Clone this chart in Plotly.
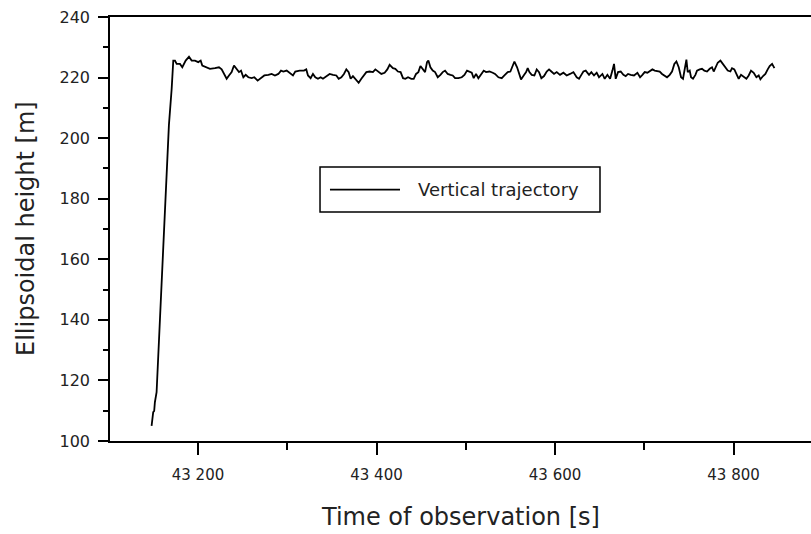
import plotly.graph_objects as go

# Time of observation [s]
time_s = [
    43148.0, 43148.7, 43149.8, 43150.9, 43151.7, 43153.6, 43167.4,
    43170.5, 43172.3, 43174.2, 43176.1, 43179.8, 43182.4, 43186.2, 43189.9, 43192.9, 43196.6,
    43200.3, 43203.0, 43204.8, 43208.6, 43213.4, 43219.0, 43223.5, 43226.5, 43229.5, 43232.1,
    43234.7, 43237.7, 43240.3, 43243.3, 43245.9, 43248.2, 43250.8, 43253.4, 43256.4, 43260.1,
    43263.1, 43266.8, 43270.6, 43274.3, 43278.8, 43282.5, 43286.2, 43290.0, 43293.0, 43295.6,
    43299.3,
    43300.8, 43303.8, 43306.4, 43309.0, 43313.9, 43318.7, 43321.3, 43323.2, 43326.2, 43328.8,
    43331.4, 43334.4, 43337.4, 43340.0, 43343.8, 43347.5, 43351.2, 43355.0, 43357.6, 43360.6,
    43363.5, 43366.2, 43368.8, 43371.0, 43373.6, 43377.4, 43380.0, 43383.0, 43386.0, 43388.6,
    43392.3, 43396.0, 43398.7, 43401.6, 43405.4, 43409.1, 43412.1, 43414.7, 43418.4, 43421.1,
    43424.0, 43427.0, 43429.7, 43432.3, 43435.3, 43439.0,
    43441.7, 43444.3, 43446.9, 43449.2, 43451.8, 43454.4, 43456.6, 43458.1, 43460.4, 43463.0,
    43465.6, 43468.6, 43471.6, 43474.2, 43476.8, 43479.8, 43482.8, 43485.4, 43488.0, 43491.7,
    43495.5, 43498.5, 43501.4, 43504.1, 43506.7, 43508.9, 43511.5, 43514.1, 43517.1, 43520.1,
    43522.7, 43526.5, 43530.2, 43532.8, 43536.6, 43540.3, 43543.3, 43547.0, 43550.0, 43552.6,
    43554.5, 43557.5, 43560.1, 43561.9, 43564.9, 43567.6, 43569.4, 43571.3, 43573.9, 43576.9,
    43579.5, 43582.1, 43584.7, 43587.7, 43590.7, 43593.3, 43595.9, 43598.9, 43601.9, 43605.6,
    43609.4, 43613.1, 43616.8, 43620.6, 43624.3, 43626.9, 43629.5, 43631.8, 43634.4, 43638.1,
    43640.7, 43643.7, 43646.7, 43649.3, 43653.1, 43655.7, 43658.7, 43661.7, 43664.3, 43666.1,
    43668.0, 43670.6, 43673.6, 43676.6, 43679.2, 43681.8, 43684.8, 43688.5, 43692.3, 43695.3,
    43697.9, 43700.5, 43703.5, 43706.5, 43709.1, 43711.7, 43714.7,
    43717.3, 43719.9, 43722.5, 43725.5, 43728.5, 43731.1, 43733.7, 43736.0, 43738.6, 43741.2,
    43743.4, 43744.9, 43747.2, 43748.7, 43750.9, 43752.4, 43754.6, 43757.3, 43759.1, 43762.1,
    43764.7, 43767.3, 43770.3, 43773.3, 43775.9, 43777.8, 43779.7, 43782.3, 43785.3, 43788.3,
    43790.9, 43793.5, 43796.5, 43798.3, 43800.9, 43803.2, 43805.8, 43808.4, 43811.4, 43814.4,
    43817.0, 43819.6, 43822.6, 43825.6, 43828.2, 43830.1, 43833.1, 43835.7, 43838.3, 43840.5,
    43843.2, 43845.8,
]

# Ellipsoidal height [m]
height_m = [
    105.0, 107.9, 109.5, 109.9, 112.8, 116.1, 204.3,
    216.3, 225.6, 225.6, 224.5, 224.5, 223.4, 225.6, 226.9, 225.6, 225.6,
    225.1, 225.6, 224.0, 223.4, 222.9, 223.1, 223.4, 222.7, 221.2, 219.6,
    220.7, 221.8, 224.0, 222.9, 221.8, 222.3, 220.1, 220.9, 220.1, 219.8,
    220.1, 219.0, 219.8, 220.7, 220.9, 221.2, 220.7, 221.2, 222.3, 222.0,
    222.3,
    222.0, 221.2, 220.7, 222.0, 222.3, 222.3, 222.7, 220.7, 219.8, 221.2,
    220.1, 219.6, 220.1, 219.6, 220.5, 221.2, 220.9, 220.7, 219.6, 220.1,
    221.2, 222.7, 221.8, 219.6, 220.5, 219.0, 218.3, 219.6, 220.7, 221.8,
    222.0, 221.8, 222.7, 222.0, 221.2, 221.6, 222.7, 224.2, 223.1, 222.9,
    222.0, 221.8, 219.8, 219.6, 220.1, 219.6,
    219.6, 221.2, 221.8, 223.8, 222.7, 221.8, 225.1, 225.6, 223.4, 222.3,
    221.8, 220.1, 220.9, 221.8, 222.3, 221.2, 220.9, 220.7, 219.8, 219.8,
    220.1, 220.9, 222.3, 221.8, 221.6, 219.8, 221.2, 219.8, 220.9, 222.3,
    221.8, 222.0, 221.6, 221.2, 220.1, 219.8, 220.7, 221.8, 222.0, 224.0,
    225.3, 223.4, 221.2, 219.4, 220.7, 221.8, 223.1, 221.8, 220.9, 220.7,
    222.7, 221.8, 219.8, 220.5, 222.0, 222.7, 222.0, 221.2, 221.8, 220.9,
    221.6, 220.7, 221.2, 221.8, 220.1, 219.6, 220.9, 222.0, 222.3, 220.9,
    221.8, 220.7, 221.6, 220.1, 221.2, 219.6, 220.9, 219.6, 222.3, 224.5,
    219.6, 221.8, 222.0, 220.9, 220.5, 221.2, 220.9, 220.7, 221.6, 220.1,
    220.9, 221.8, 221.6, 222.3, 222.7, 222.3, 222.0,
    222.0, 221.2, 220.7, 220.1, 220.9, 222.0, 224.5, 225.3, 223.4, 220.1,
    219.6, 222.3, 225.9, 221.8, 222.3, 220.1, 219.6, 220.9, 222.3, 222.7,
    222.9, 222.3, 222.0, 222.9, 223.4, 222.0, 223.4, 224.9, 225.6, 224.5,
    223.4, 222.3, 222.0, 223.1, 222.7, 221.2, 219.6, 220.9, 220.1, 219.6,
    220.7, 222.3, 221.6, 220.1, 220.7, 219.4, 220.5, 221.2, 222.7, 223.8,
    224.5, 223.1,
]

x_tick_vals = [43200, 43400, 43600, 43800]
x_tick_text = ["43 200", "43 400", "43 600", "43 800"]
x_minor_vals = [43300, 43500, 43700]
y_tick_vals = [100, 120, 140, 160, 180, 200, 220, 240]
y_minor_vals = [110, 130, 150, 170, 190, 210, 230]
series_name = "Vertical trajectory"
x_title = "Time of observation [s]"
y_title = "Ellipsoidal height [m]"

FONT = "DejaVu Sans"
TXT = "#222222"

fig = go.Figure()
fig.add_trace(go.Scatter(
    x=time_s, y=height_m, mode="lines", name=series_name,
    line=dict(color="black", width=1.8), showlegend=False,
))

fig.update_layout(
    width=811, height=534,
    margin=dict(l=110, r=0, t=17, b=93),
    paper_bgcolor="white", plot_bgcolor="white",
    font=dict(family=FONT, color=TXT),
)

fig.update_xaxes(
    range=[43101.4, 43886.8],
    tickmode="array", tickvals=x_tick_vals, ticktext=x_tick_text,
    ticks="outside", ticklen=12, tickwidth=1.5, tickcolor="black",
    minor=dict(ticks="outside", ticklen=7, tickwidth=1.5, tickcolor="black",
               tickmode="array", tickvals=x_minor_vals),
    showline=True, linecolor="black", linewidth=1.5, mirror=True,
    showgrid=False, zeroline=False,
    tickfont=dict(size=15, color=TXT),
    ticklabelstandoff=7,
)

fig.update_yaxes(
    range=[100, 240],
    tickmode="array", tickvals=y_tick_vals,
    ticks="outside", ticklen=10, tickwidth=1.5, tickcolor="black",
    minor=dict(ticks="outside", ticklen=5, tickwidth=1.5, tickcolor="black",
               tickmode="array", tickvals=y_minor_vals),
    showline=True, linecolor="black", linewidth=1.5, mirror=False,
    showgrid=False, zeroline=False,
    tickfont=dict(size=16, color=TXT),
    ticklabelstandoff=5,
)

# axis titles
fig.add_annotation(xref="paper", yref="paper", x=0.5, y=-0.179,
                   xanchor="center", yanchor="middle", showarrow=False,
                   text=x_title, font=dict(size=24, family=FONT, color=TXT))
fig.add_annotation(xref="paper", yref="paper", x=-0.1198, y=0.5,
                   xanchor="center", yanchor="middle", showarrow=False, textangle=-90,
                   text=y_title, font=dict(size=24, family=FONT, color=TXT))

# Legend box drawn manually (long line sample as in the original)
fig.add_shape(type="rect", xref="paper", yref="paper",
              x0=0.2996, x1=0.699, y0=0.540, y1=0.646,
              line=dict(color="black", width=1.5), fillcolor="white", layer="above")
fig.add_shape(type="line", xref="paper", yref="paper",
              x0=0.3138, x1=0.4137, y0=0.593, y1=0.593,
              line=dict(color="black", width=1.8), layer="above")
fig.add_annotation(xref="paper", yref="paper", x=0.436, y=0.593,
                   xanchor="left", yanchor="middle", showarrow=False,
                   text=series_name, font=dict(size=18, family=FONT, color=TXT))

fig.write_html("out.html")
